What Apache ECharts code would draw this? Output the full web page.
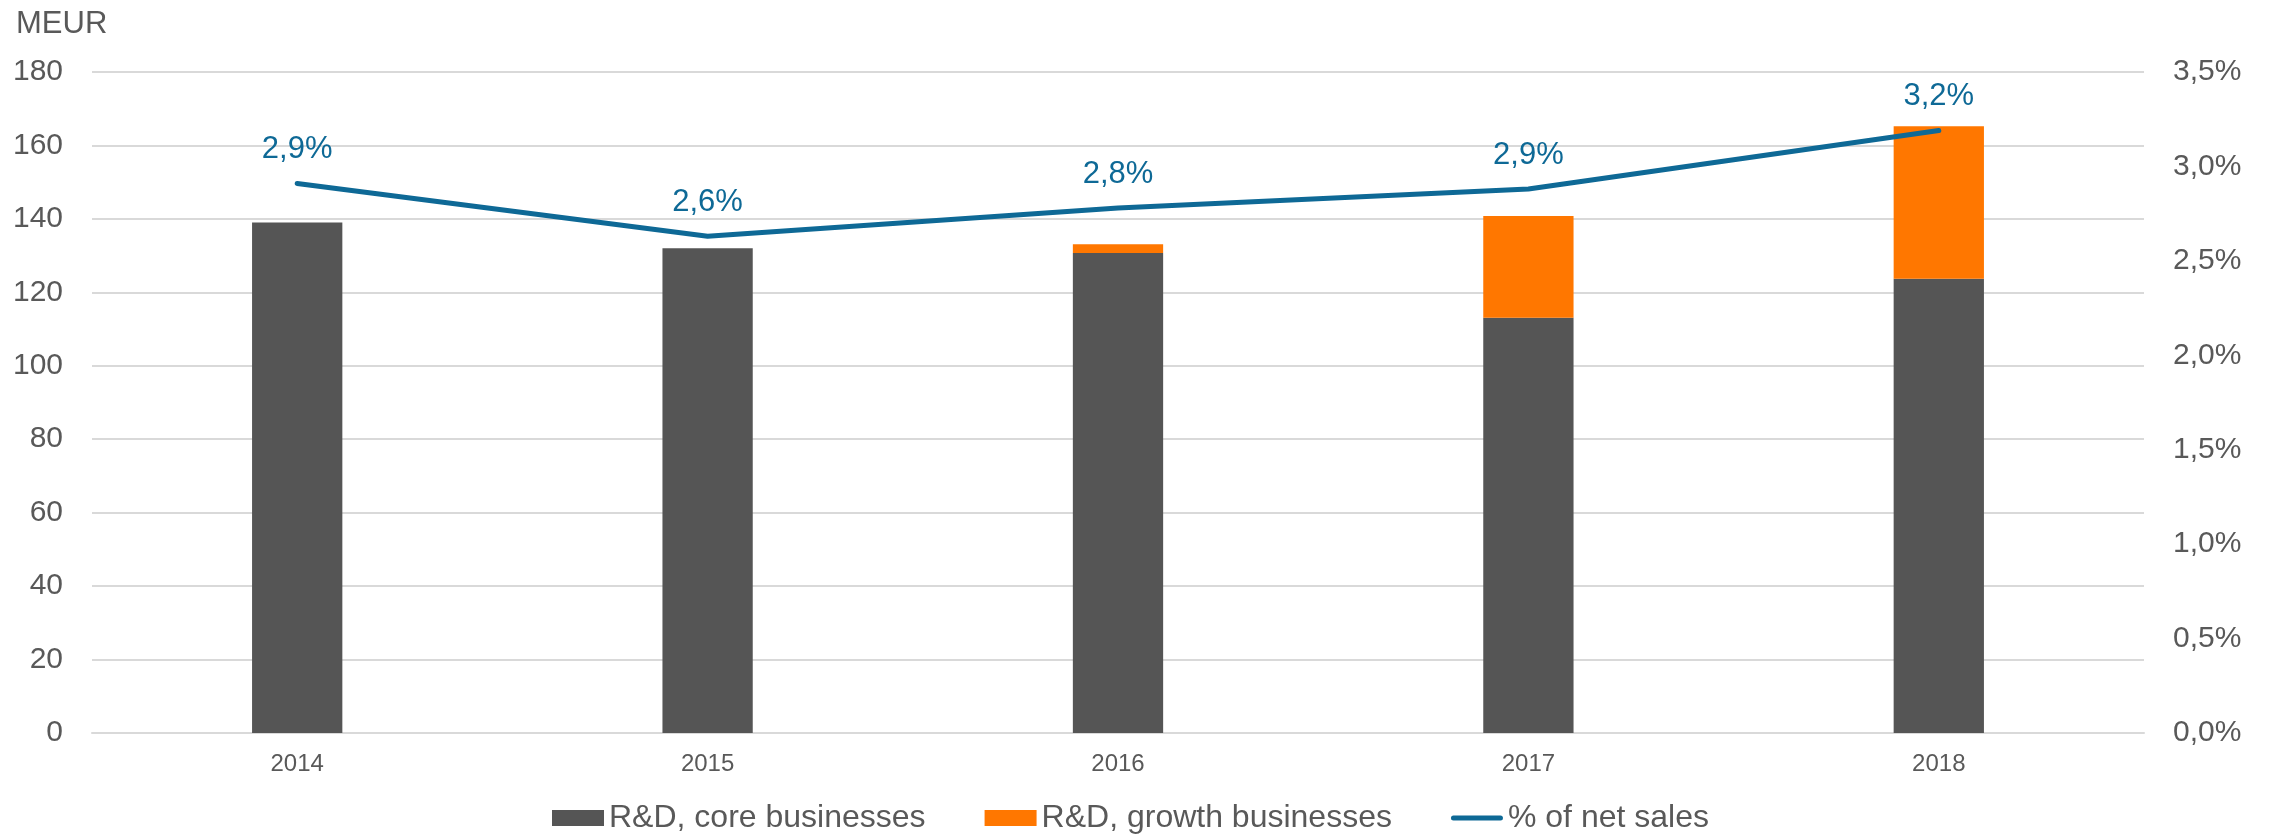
<!DOCTYPE html>
<html>
<head>
<meta charset="utf-8">
<script src="https://cdn.jsdelivr.net/npm/echarts@6/dist/echarts.min.js"></script>
<style>
html,body{margin:0;padding:0;background:#fff;}
#chart{width:2275px;height:835px;}
</style>
</head>
<body>
<div id="chart"></div>
<script>
const categories = ['2014', '2015', '2016', '2017', '2018'];
const coreValues = [139, 132, 130.7, 113.1, 123.7];
const growthValues = [0, 0, 2.4, 27.7, 41.5];
const pctValues = [2.91, 2.63, 2.78, 2.88, 3.19];
const seriesNames = ['R&D, core businesses', 'R&D, growth businesses', '% of net sales'];
const unitLabel = 'MEUR';

const FONT = '"Liberation Sans", Arial, sans-serif';
const GREY_TXT = '#595959';
const LINE_COLOR = '#0E6996';
const fmtPct = v => v.toFixed(1).replace('.', ',') + '%';

const chart = echarts.init(document.getElementById('chart'));
chart.setOption({
  animation: false,
  backgroundColor: '#ffffff',
  textStyle: { fontFamily: FONT },
  title: {
    text: unitLabel,
    left: 11,
    top: 4,
    textStyle: { fontFamily: FONT, fontSize: 31, fontWeight: 'normal', color: GREY_TXT }
  },
  grid: { left: 92, right: 131, top: 72, bottom: 102, containLabel: false },
  legend: {
    data: [
      { name: seriesNames[0], icon: 'rect' },
      { name: seriesNames[1], icon: 'rect' },
      { name: seriesNames[2], icon: 'path://M2.5,0 L49.5,0 Q52,0 52,2.5 Q52,5 49.5,5 L2.5,5 Q0,5 0,2.5 Q0,0 2.5,0 Z',
        itemStyle: { color: LINE_COLOR, opacity: 1 } }
    ],
    top: 797,
    left: 547,
    itemWidth: 52,
    itemHeight: 16,
    itemGap: 59,
    symbolKeepAspect: true,
    textStyle: { fontFamily: FONT, fontSize: 32, color: GREY_TXT }
  },
  xAxis: {
    type: 'category',
    data: categories,
    axisTick: { show: false },
    axisLine: { show: true, lineStyle: { color: '#d9d9d9', width: 2 } },
    axisLabel: { fontFamily: FONT, fontSize: 24, color: GREY_TXT, margin: 19 }
  },
  yAxis: [
    {
      type: 'value',
      min: 0, max: 180, interval: 20,
      axisLine: { show: false },
      axisTick: { show: false },
      splitLine: { lineStyle: { color: '#d9d9d9', width: 2 } },
      axisLabel: { fontFamily: FONT, fontSize: 30, color: GREY_TXT, margin: 29 }
    },
    {
      type: 'value',
      min: 0, max: 3.5, interval: 0.5,
      axisLine: { show: false },
      axisTick: { show: false },
      splitLine: { show: false },
      axisLabel: { fontFamily: FONT, fontSize: 30, color: GREY_TXT, margin: 29, formatter: v => v.toFixed(1).replace('.', ',') + '%' }
    }
  ],
  series: [
    {
      name: seriesNames[0],
      type: 'bar',
      stack: 'rd',
      barWidth: '22%',
      data: coreValues,
      itemStyle: { color: '#555555' }
    },
    {
      name: seriesNames[1],
      type: 'bar',
      stack: 'rd',
      barWidth: '22%',
      data: growthValues,
      itemStyle: { color: '#FF7700' }
    },
    {
      name: seriesNames[2],
      type: 'line',
      yAxisIndex: 1,
      data: pctValues,
      symbol: 'circle',
      symbolSize: 1,
      showSymbol: true,
      z: 5,
      lineStyle: { color: LINE_COLOR, width: 5, cap: 'round', join: 'round' },
      itemStyle: { color: LINE_COLOR, opacity: 0 },
      label: {
        show: true,
        position: 'top',
        distance: 18,
        fontFamily: FONT,
        fontSize: 31,
        color: LINE_COLOR,
        opacity: 1,
        formatter: p => fmtPct(p.value)
      }
    }
  ]
});
</script>
</body>
</html>
